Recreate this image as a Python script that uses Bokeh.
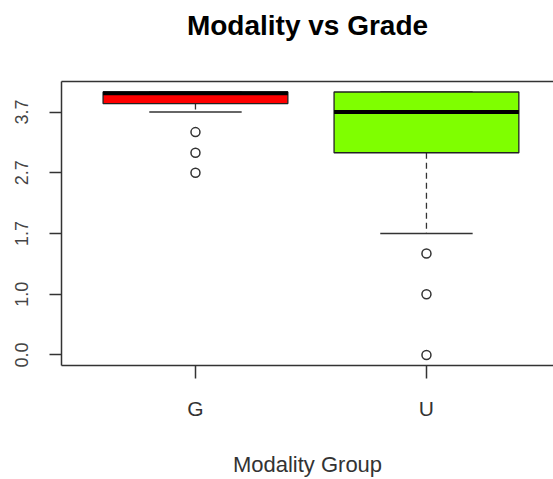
from bokeh.plotting import figure
from bokeh.models import FixedTicker, LinearAxis, Range1d
from bokeh.embed import file_html
from bokeh.resources import INLINE

# ---- data ----
groups = ["G", "U"]
group_pos = [1, 2]
q1 = [4.14, 3.33]
median = [4.31, 4.0]
q3 = [4.33, 4.33]
whisk_low = [4.0, 2.0]
whisk_high = [4.33, 4.33]
box_colors = ["#FF0000", "#7FFF00"]
outlier_group = [1, 1, 1, 2, 2, 2]
outlier_vals = [3.67, 3.33, 3.0, 1.67, 1.0, 0.0]

y_tick_pos = [0, 1, 2, 3, 4]
y_tick_labels = ["0.0", "1.0", "1.7", "2.7", "3.7"]
title_text = "Modality vs Grade"

FONT = "Liberation Sans"
INK = "#333333"

p = figure(width=553, height=479, output_backend="svg", toolbar_location=None,
           x_range=Range1d(0.42, 2.55), y_range=Range1d(-0.1732, 4.5032),
           min_border_left=61, min_border_top=81, min_border_bottom=111,
           min_border_right=0)
p.outline_line_color = None
p.grid.visible = False
p.background_fill_color = "white"
p.border_fill_color = "white"

# boxes
box_w = 0.8
cap_w = 0.4
lx = [x - cap_w / 2 for x in group_pos]
rx = [x + cap_w / 2 for x in group_pos]
mlx = [x - box_w / 2 for x in group_pos]
mrx = [x + box_w / 2 for x in group_pos]

# whiskers (dashed)
p.segment(x0=group_pos, y0=q1, x1=group_pos, y1=whisk_low, line_color=INK,
          line_width=1.3, line_dash="6 4")
p.segment(x0=group_pos, y0=q3, x1=group_pos, y1=whisk_high, line_color=INK,
          line_width=1.3, line_dash="6 4")
# caps
p.segment(x0=lx, y0=whisk_low, x1=rx, y1=whisk_low, line_color=INK, line_width=1.5)
p.segment(x0=lx, y0=whisk_high, x1=rx, y1=whisk_high, line_color=INK, line_width=1.5)

p.vbar(x=group_pos, width=box_w, bottom=q1, top=q3, fill_color=box_colors,
       line_color="#222222", line_width=1.3)
p.segment(x0=mlx, y0=median, x1=mrx, y1=median, line_color="black", line_width=4)

p.scatter(x=outlier_group, y=outlier_vals, size=9, fill_color="white",
          line_color=INK, line_width=1.5)

# axes
xa = p.xaxis[0]
xa.ticker = FixedTicker(ticks=group_pos)
xa.major_label_overrides = {pos: g for pos, g in zip(group_pos, groups)}
xa.axis_label = "Modality Group"
xa.axis_label_text_font = FONT
xa.axis_label_text_font_size = "22px"
xa.axis_label_text_font_style = "normal"
xa.axis_label_text_color = INK
xa.axis_label_standoff = 29
xa.major_label_text_font = FONT
xa.major_label_text_font_size = "21px"
xa.major_label_text_color = INK
xa.major_label_standoff = 18
xa.major_tick_out = 13
xa.major_tick_in = 0
xa.minor_tick_out = 0
xa.minor_tick_in = 0
xa.axis_line_color = INK
xa.axis_line_width = 1.5
xa.major_tick_line_color = INK
xa.major_tick_line_width = 1.5

ya = p.yaxis[0]
ya.ticker = FixedTicker(ticks=y_tick_pos)
ya.major_label_overrides = {pos: lab for pos, lab in zip(y_tick_pos, y_tick_labels)}
ya.major_label_orientation = "vertical"
ya.major_label_text_font = FONT
ya.major_label_text_font_size = "18px"
ya.major_label_text_color = "#444444"
ya.major_label_standoff = 21
ya.major_tick_out = 12
ya.major_tick_in = 0
ya.minor_tick_out = 0
ya.minor_tick_in = 0
ya.axis_line_color = INK
ya.axis_line_width = 1.5
ya.major_tick_line_color = INK
ya.major_tick_line_width = 1.5

# top border line, carrying the title as its label
top = LinearAxis(ticker=FixedTicker(ticks=[]), major_label_text_font_size="0px",
                 major_tick_out=0, major_tick_in=0, minor_tick_out=0, minor_tick_in=0,
                 axis_line_color=INK, axis_line_width=1.5,
                 axis_label=title_text, axis_label_text_font=FONT,
                 axis_label_text_font_size="28px", axis_label_text_font_style="bold",
                 axis_label_text_color="black", axis_label_standoff=41)
p.add_layout(top, "above")

open("out.html", "w").write(file_html(p, INLINE))
